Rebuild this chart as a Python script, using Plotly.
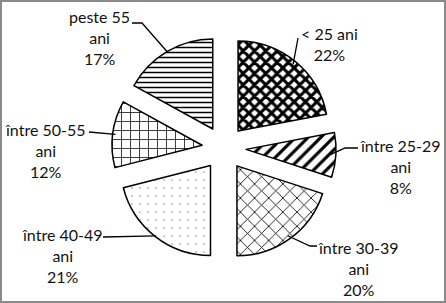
import math
import plotly.graph_objects as go

# ---- data ----
categories = ["< 25 ani", "între 25-29 ani", "între 30-39 ani",
              "între 40-49 ani", "între 50-55 ani", "peste 55 ani"]
label_texts = ["< 25 ani<br>22%", "între 25-29<br>ani<br>8%", "între 30-39<br>ani<br>20%",
               "între 40-49<br>ani<br>21%", "între 50-55<br>ani<br>12%", "peste 55<br>ani<br>17%"]
values = [22, 8, 20, 21, 12, 17]

# ---- style / layout ----
W, H = 446, 303
CX, CY, R, PULL = 224, 148, 90, 0.245
patterns = ["x", "/", "x", ".", "+", "-"]
pat_size = [8, 9, 10, 8, 9, 5]
pat_sol = [0.62, 0.35, 0.16, 0.025, 0.16, 0.3]
pat_fg = ["black", "black", "black", "#777777", "black", "black"]

# label anchor (text centre, px) and elbow points of the leader lines (px)
label_pos = [(329, 44), (400, 166), (358, 268), (62, 255), (45, 150), (99, 38)]
leader_pts = [[(298, 38)], [(345, 148), (358, 148)], [(310, 246), (317, 246)],
              [(103, 237)], [(89, 132)], [(142, 23), (132, 23)]]
leader_r = [0.96, 0.94, 0.96, 0.99, 0.97, 1.0]

ext = R * (1 + PULL)
dom_x = [(CX - ext) / W, (CX + ext) / W]
dom_y = [1 - (CY + ext) / H, 1 - (CY - ext) / H]

fig = go.Figure(go.Pie(
    labels=categories, values=values, sort=False, direction="clockwise",
    rotation=0, pull=[PULL] * len(values), textinfo="none", hoverinfo="label+percent",
    domain=dict(x=dom_x, y=dom_y),
    marker=dict(colors=["white"] * len(values),
                line=dict(color="black", width=1.5),
                pattern=dict(shape=patterns, size=pat_size, solidity=pat_sol,
                             fgcolor=pat_fg, bgcolor="white", fgopacity=1,
                             fillmode="replace")),
))

def px2paper(p):
    return p[0] / W, 1 - p[1] / H

shapes = []
annotations = []
total = sum(values)
cum = 0
for i, v in enumerate(values):
    mid = (cum + v / 2) / total * 2 * math.pi
    cum += v
    vx = CX + PULL * R * math.sin(mid)
    vy = CY - PULL * R * math.cos(mid)
    ax = vx + leader_r[i] * R * math.sin(mid)
    ay = vy - leader_r[i] * R * math.cos(mid)
    pts = [(ax, ay)] + leader_pts[i]
    path = ""
    for k, p in enumerate(pts):
        x, y = px2paper(p)
        path += ("M" if k == 0 else "L") + f"{x:.5f},{y:.5f} "
    shapes.append(dict(type="path", xref="paper", yref="paper", path=path,
                       line=dict(color="black", width=1.3)))
    lx, ly = px2paper(label_pos[i])
    annotations.append(dict(x=lx, y=ly, xref="paper", yref="paper", text=label_texts[i],
                            showarrow=False, xanchor="center", yanchor="middle",
                            align="center", font=dict(family="Lato", size=16, color="#111111")))

shapes.append(dict(type="rect", xref="paper", yref="paper", x0=0, y0=0, x1=1, y1=1,
                   line=dict(color="#8a8a8a", width=4)))

fig.update_layout(width=W, height=H, margin=dict(l=0, r=0, t=0, b=0),
                  paper_bgcolor="white", plot_bgcolor="white", showlegend=False,
                  shapes=shapes, annotations=annotations)

fig.write_html("out.html")
